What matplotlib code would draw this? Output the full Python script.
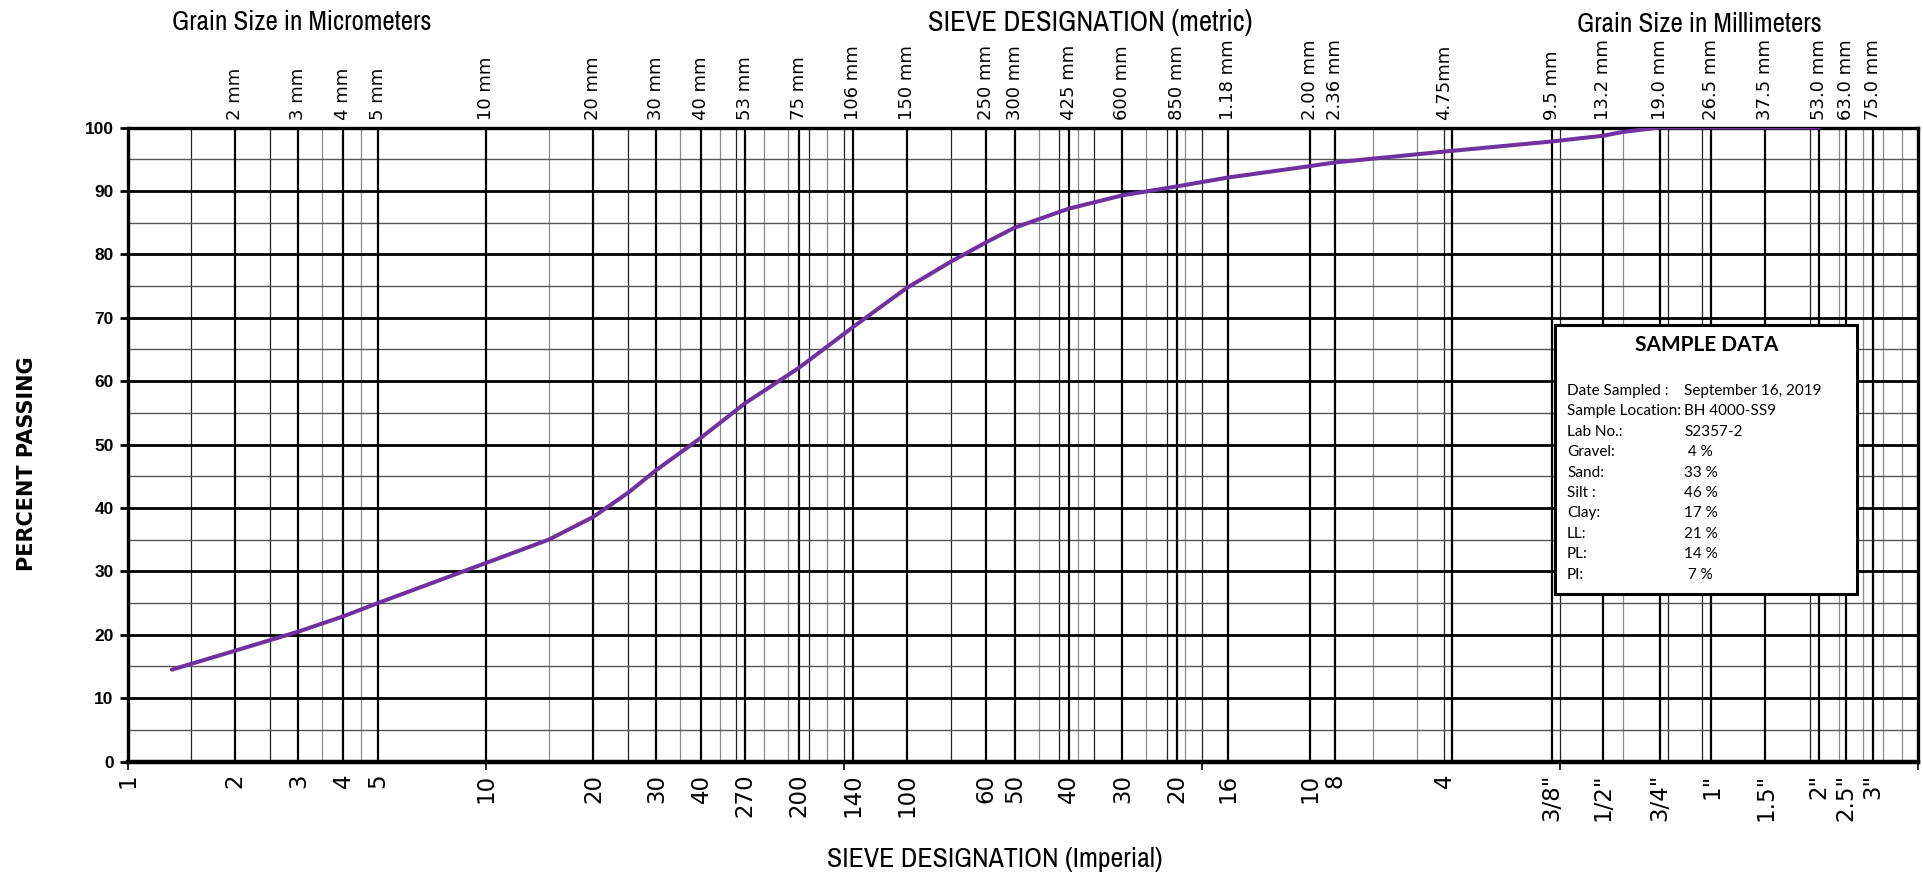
import matplotlib
matplotlib.use("Agg")
import matplotlib.pyplot as plt
import matplotlib.patches as patches
from matplotlib import font_manager

# percent passing vs grain size (micrometers)
size_um = [1.33, 2, 3, 4, 5, 10, 15, 20, 25, 30, 40, 53, 75, 106, 150, 200,
           250, 300, 425, 600, 850, 1180, 2000, 2360, 4750, 9500, 13200,
           15000, 19000, 26500, 37500, 53000]
passing = [14.5, 17.5, 20.5, 22.9, 25.0, 31.3, 35.0, 38.6, 42.4, 46.0, 51.1,
           56.5, 62.1, 68.5, 74.7, 78.9, 81.9, 84.2, 87.2, 89.3, 90.7, 92.1,
           93.9, 94.5, 96.2, 97.8, 98.7, 99.3, 100, 100, 100, 100]

# metric labels along the top
top_pos = [2, 3, 4, 5, 10, 20, 30, 40, 53, 75, 106, 150, 250, 300, 425, 600,
           850, 1180, 2000, 2360, 4750, 9500, 13200, 19000, 26500, 37500,
           53000, 63000, 75000]
top_lbl = ["2 mm", "3 mm", "4 mm", "5 mm", "10 mm", "20 mm", "30 mm", "40 mm",
           "53 mm", "75 mm", "106 mm", "150 mm", "250 mm", "300 mm", "425 mm",
           "600 mm", "850 mm", "1.18 mm", "2.00 mm", "2.36 mm", "4.75mm",
           "9.5 mm", "13.2 mm", "19.0 mm", "26.5 mm", "37.5 mm", "53.0 mm",
           "63.0 mm", "75.0 mm"]

# imperial / sieve number labels along the bottom
bot_pos = [1, 2, 3, 4, 5, 10, 20, 30, 40, 53, 75, 106, 150, 250, 300, 425,
           600, 850, 1180, 2000, 2360, 4750, 9500, 13200, 19000, 26500,
           37500, 53000, 63000, 75000]
bot_lbl = ["1", "2", "3", "4", "5", "10", "20", "30", "40", "270", "200",
           "140", "100", "60", "50", "40", "30", "20", "16", "10", "8", "4",
           '3/8"', '1/2"', '3/4"', '1"', '1.5"', '2"', '2.5"', '3"']

# vertical grid lines
v_thick = [2, 3, 4, 5, 10, 20, 30, 40, 53, 75, 106, 150, 250, 300, 425, 600,
           850, 1180, 2000, 2360, 5000, 9500, 13200, 19000, 26500, 37500,
           53000, 63000, 75000]
v_dark = [1.5, 2.5, 25, 50, 80, 100, 200, 400, 500, 800, 1000, 4750, 10000,
          20000, 25000, 50000]
v_gray = [3.5, 4.5, 15, 35, 45, 60, 70, 90, 350, 450, 700, 900, 3000, 4000,
          15000, 60000, 70000, 80000, 90000]

sample_keys = ["Date Sampled :", "Sample Location:", "Lab No.:", "Gravel:",
               "Sand:", "Silt :", "Clay:", "LL:", "PL:", "PI:"]
sample_vals = ["September 16, 2019", "BH 4000-SS9", "S2357-2", " 4 %", "33 %",
               "46 %", "17 %", "21 %", "14 %", " 7 %"]


def narrow_font():
    # look for any condensed / narrow sans face, else plain Liberation Sans
    best = None
    for f in font_manager.fontManager.ttflist:
        n = f.name.lower()
        st = str(f.stretch).lower()
        if "serif" in n or "mono" in n or f.style != "normal":
            continue
        cond = "narrow" in n or "condensed" in n or st in (
            "condensed", "semi-condensed", "extra-condensed")
        if not cond:
            continue
        w = f.weight if isinstance(f.weight, int) else 400
        score = abs(w - 400) + (0 if "narrow" in n else 50)
        if "extra" in st or "ultra" in st:
            score += 300
        if best is None or score < best[0]:
            best = (score, f.fname)
    if best:
        return dict(fontproperties=font_manager.FontProperties(fname=best[1]))
    return dict(fontfamily="Liberation Sans")


names = {f.name for f in font_manager.fontManager.ttflist}
arial = "Liberation Sans"
boxfont = "Lato" if "Lato" in names else "DejaVu Sans"
nf = narrow_font()

W, H = 1923, 874
fig = plt.figure(figsize=(W / 100, H / 100), dpi=100)
L, R, T, B = 127.5, 1918, 127.5, 761.6
ax = fig.add_axes([L / W, 1 - B / H, (R - L) / W, (B - T) / H])
ax.set_xscale("log")
ax.set_xlim(1, 100000)
ax.set_ylim(0, 100)

for v in v_gray:
    ax.axvline(v, color="#8a8a8a", lw=0.9, zorder=1)
for v in v_dark:
    ax.axvline(v, color="#222222", lw=0.9, zorder=1)
for v in v_thick:
    ax.axvline(v, color="black", lw=1.6, zorder=2)
for y in range(5, 100, 10):
    ax.axhline(y, color="#555555", lw=1.0, zorder=1)
for y in range(10, 100, 10):
    ax.axhline(y, color="black", lw=2.0, zorder=2)

ax.plot(size_um, passing, color="#7030A0", lw=2.9, zorder=4,
        solid_capstyle="round", solid_joinstyle="round")

for s in ["left", "top", "right"]:
    ax.spines[s].set_linewidth(2.4)
ax.spines["bottom"].set_linewidth(3.2)

ax.set_xticks([1, 10, 100, 1000, 10000, 100000])
ax.set_xticklabels([])
ax.xaxis.set_minor_locator(matplotlib.ticker.NullLocator())
ax.tick_params(axis="x", direction="out", length=6, width=1.2)
ax.set_yticks(range(0, 101, 10))
ax.set_yticklabels([str(v) for v in range(0, 101, 10)],
                   fontfamily=arial, fontweight="bold", fontsize=12.5)
ax.tick_params(axis="y", direction="out", length=6, width=2, pad=4)

tr = ax.get_xaxis_transform()
for p, t in zip(top_pos, top_lbl):
    ax.text(p, 1.012, t, transform=tr, rotation=90, ha="center", va="bottom",
            fontfamily="DejaVu Sans", fontsize=13)
for p, t in zip(bot_pos, bot_lbl):
    ax.text(p, -0.019, t, transform=tr, rotation=90, ha="center", va="top",
            fontfamily="DejaVu Sans", fontsize=16.5)


def px(x, y):
    return x / W, 1 - y / H


# titles: sized so that their width matches the reference
titles = [
    (302, 22, "Grain Size in Micrometers", 260),
    (1090, 22, "SIEVE DESIGNATION (metric)", 325),
    (1699, 25, "Grain Size in Millimeters", 245),
    (995, 859, "SIEVE DESIGNATION (Imperial)", 335),
]
renderer = fig.canvas.get_renderer()
for x, y, s, wpx in titles:
    t = fig.text(*px(x, y), s, ha="center", va="center", fontsize=18, **nf)
    w = t.get_window_extent(renderer).width
    t.set_fontsize(18 * wpx / w)

fig.text(*px(27, 464), "PERCENT PASSING", ha="center", va="center", rotation=90,
         fontfamily="DejaVu Sans", fontsize=15, fontweight="bold")

# sample data box
bx0, by0 = px(1555, 594)
bx1, by1 = px(1857, 325)
fig.patches.append(patches.Rectangle((bx0, by0), bx1 - bx0, by1 - by0,
                                     transform=fig.transFigure, facecolor="white",
                                     edgecolor="black", lw=2.2, zorder=5))
fig.text(*px(1707, 345), "SAMPLE DATA", ha="center", va="center",
         fontfamily=boxfont, fontweight="bold", fontsize=15, zorder=6)
for i, (k, v) in enumerate(zip(sample_keys, sample_vals)):
    yy = 391 + i * 20.4
    fig.text(*px(1567, yy), k, ha="left", va="center", fontfamily=boxfont,
             fontsize=11, zorder=6)
    fig.text(*px(1684, yy), v, ha="left", va="center", fontfamily=boxfont,
             fontsize=11, zorder=6)

fig.savefig("out.png", dpi=100)
